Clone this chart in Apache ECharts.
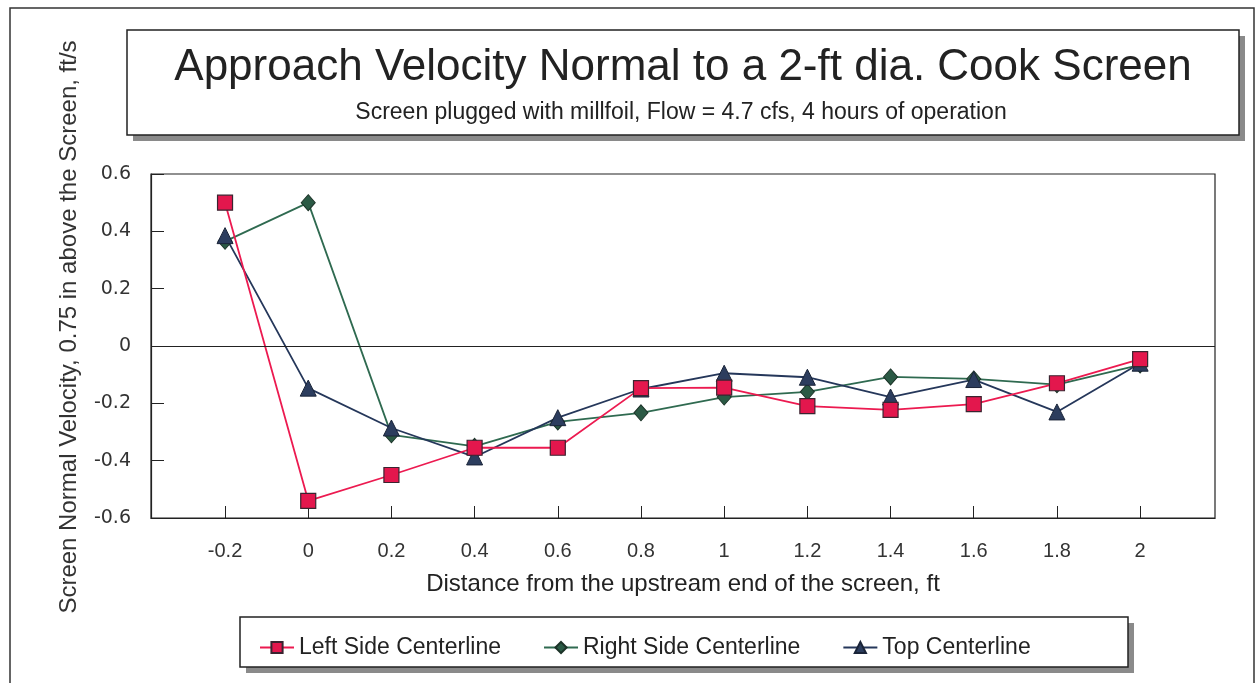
<!DOCTYPE html>
<html>
<head>
<meta charset="utf-8">
<script src="https://cdn.jsdelivr.net/npm/echarts@6/dist/echarts.min.js"></script>
<style>
    html, body { margin: 0; padding: 0; background: #fff; }
    #chart { width: 1257px; height: 683px; }
</style>
</head>
<body>
<div id="chart"></div>
<script>
// distance from upstream end, ft
const xValues = [-0.2, 0, 0.2, 0.4, 0.6, 0.8, 1, 1.2, 1.4, 1.6, 1.8, 2];
const yTicks = [-0.6, -0.4, -0.2, 0, 0.2, 0.4, 0.6];

// screen normal velocity, ft/s
const leftSide = [0.50, -0.54, -0.45, -0.355, -0.355, -0.147, -0.145, -0.21, -0.223, -0.203, -0.13, -0.046];
const rightSide = [0.365, 0.50, -0.31, -0.35, -0.265, -0.233, -0.178, -0.16, -0.108, -0.115, -0.135, -0.066];
const topLine = [0.385, -0.147, -0.286, -0.387, -0.25, -0.15, -0.095, -0.109, -0.178, -0.117, -0.23, -0.06];

const FONT = 'Liberation Sans';

const pairs = (vals) => vals.map((v, i) => [xValues[i], v]);

const fmt = (v) => {
    const r = Math.round(v * 10) / 10;
    return r === 0 ? '0' : String(r);
};

const chart = echarts.init(document.getElementById('chart'));

const option = {
    backgroundColor: '#fff',
    animation: false,
    textStyle: { fontFamily: FONT },
    graphic: [
        // outer frame
        { type: 'rect', z: 0, shape: { x: 10, y: 8, width: 1244, height: 700 },
          style: { fill: null, stroke: '#333', lineWidth: 1.5 } },
        // title box + shadow
        { type: 'rect', z: 0, shape: { x: 133, y: 36, width: 1112, height: 105 },
          style: { fill: '#8a8a8a' } },
        { type: 'rect', z: 1, shape: { x: 127, y: 30, width: 1112, height: 105 },
          style: { fill: '#fff', stroke: '#222', lineWidth: 1.5 } },
        { type: 'text', z: 2, x: 683, y: 68,
          style: { text: 'Approach Velocity Normal to a 2-ft dia. Cook Screen', fontFamily: FONT,
                   fontSize: 44, fill: '#222', align: 'center', verticalAlign: 'middle' } },
        { type: 'text', z: 2, x: 681, y: 113,
          style: { text: 'Screen plugged with millfoil, Flow = 4.7 cfs, 4 hours of operation', fontFamily: FONT,
                   fontSize: 23, fill: '#222', align: 'center', verticalAlign: 'middle' } },
        // legend box + shadow
        { type: 'rect', z: 0, shape: { x: 246, y: 623, width: 888, height: 50 },
          style: { fill: '#8a8a8a' } },
        { type: 'rect', z: 1, shape: { x: 240, y: 617, width: 888, height: 50 },
          style: { fill: '#fff', stroke: '#222', lineWidth: 1.5 } }
    ],
    legend: {
        left: 254,
        top: 631,
        itemGap: 42,
        itemWidth: 34,
        itemHeight: 14,
        textStyle: { fontFamily: FONT, fontSize: 23, color: '#222' },
        data: ['Left Side Centerline', 'Right Side Centerline', 'Top Centerline']
    },
    grid: {
        left: 151,
        right: 42,
        top: 174,
        bottom: 165,
        show: true,
        borderColor: '#222',
        borderWidth: 1.2,
        backgroundColor: '#fff'
    },
    xAxis: {
        type: 'value',
        min: -0.378,
        max: 2.18,
        name: 'Distance from the upstream end of the screen, ft',
        nameLocation: 'middle',
        nameGap: 54,
        nameTextStyle: { fontFamily: FONT, fontSize: 24, color: '#222' },
        axisLine: { show: true, onZero: false, lineStyle: { color: '#222', width: 1.2 } },
        axisTick: { show: true, inside: true, length: 12, customValues: xValues,
                    lineStyle: { color: '#222' } },
        axisLabel: { customValues: xValues, margin: 23, fontFamily: FONT, fontSize: 20, color: '#333',
                     formatter: (v) => fmt(v) },
        splitLine: { show: false }
    },
    yAxis: {
        type: 'value',
        min: -0.6,
        max: 0.6,
        interval: 0.2,
        name: 'Screen Normal Velocity, 0.75 in above the Screen, ft/s',
        nameLocation: 'middle',
        nameGap: 70,
        nameTextStyle: { fontFamily: FONT, fontSize: 24, color: '#333', padding: [0, 0, 0, 38] },
        axisLine: { show: true, onZero: false, lineStyle: { color: '#222', width: 1.2 } },
        axisTick: { show: true, inside: true, length: 13, lineStyle: { color: '#222' } },
        axisLabel: { margin: 20, fontFamily: 'DejaVu Sans', fontSize: 19, color: '#333',
                     formatter: (v) => fmt(v) },
        splitLine: { show: false }
    },
    series: [
        {
            name: 'Right Side Centerline',
            type: 'line',
            data: pairs(rightSide),
            symbol: 'diamond',
            symbolSize: [14, 16],
            lineStyle: { color: '#2f6a50', width: 1.8 },
            itemStyle: { color: '#2b5a45', borderColor: '#1c3328', borderWidth: 1 },
            markLine: {
                silent: true,
                symbol: 'none',
                label: { show: false },
                lineStyle: { color: '#222', width: 1.2, type: 'solid' },
                data: [{ yAxis: 0 }]
            }
        },
        {
            name: 'Top Centerline',
            type: 'line',
            data: pairs(topLine),
            symbol: 'triangle',
            symbolSize: 16,
            lineStyle: { color: '#25375a', width: 1.8 },
            itemStyle: { color: '#2c3d5e', borderColor: '#1a2438', borderWidth: 1 }
        },
        {
            name: 'Left Side Centerline',
            type: 'line',
            data: pairs(leftSide),
            symbol: 'rect',
            symbolSize: 15,
            lineStyle: { color: '#ec1a50', width: 1.8 },
            itemStyle: { color: '#e3174d', borderColor: '#3a2430', borderWidth: 1.2 }
        }
    ]
};

chart.setOption(option);
</script>
</body>
</html>
